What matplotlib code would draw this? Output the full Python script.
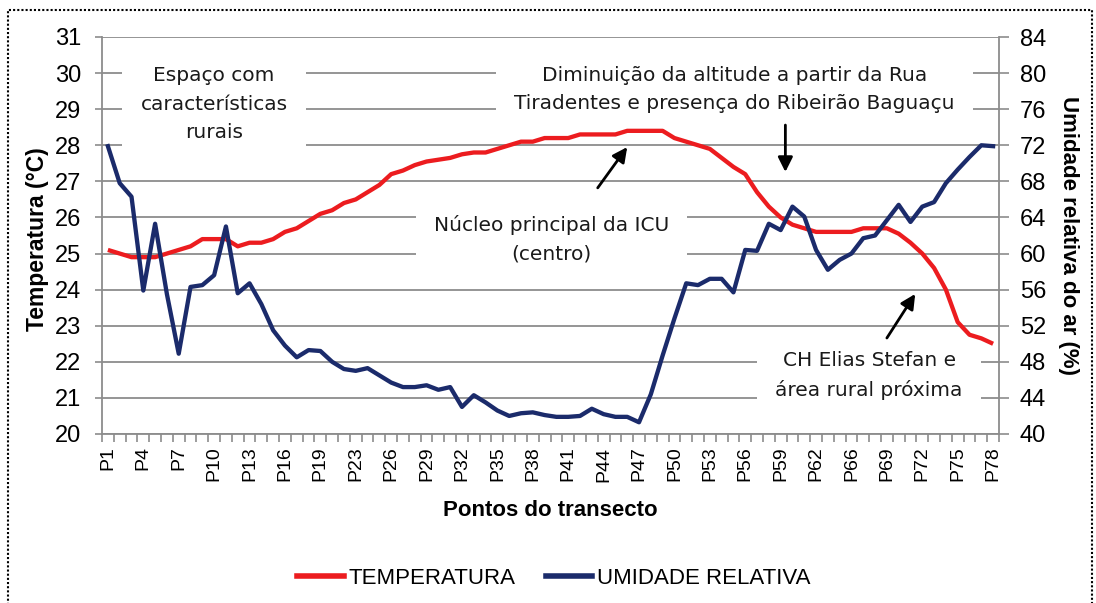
import matplotlib.pyplot as plt
from matplotlib.patches import Rectangle
from matplotlib.lines import Line2D

# Fonts: narrow Arial-like for axis text, Verdana-like for the notes
NARROW = ["Liberation Sans Narrow", "Liberation Sans"]
WIDE = ["Liberation Sans"]
NOTE = ["DejaVu Sans"]

# Data
pontos = [f"P{i}" for i in range(1, 79) if i not in (20, 64)]

temperatura = [25.1, 25.0, 24.9, 24.9, 24.9, 25.0, 25.1, 25.2, 25.4, 25.4,
               25.4, 25.2, 25.3, 25.3, 25.4, 25.6, 25.7, 25.9, 26.1, 26.2,
               26.4, 26.5, 26.7, 26.9, 27.2, 27.3, 27.45, 27.55, 27.6, 27.65,
               27.75, 27.8, 27.8, 27.9, 28.0, 28.1, 28.1, 28.2, 28.2, 28.2,
               28.3, 28.3, 28.3, 28.3, 28.4, 28.4, 28.4, 28.4, 28.2, 28.1,
               28.0, 27.9, 27.65, 27.4, 27.2, 26.7, 26.3, 26.0, 25.8, 25.7,
               25.6, 25.6, 25.6, 25.6, 25.7, 25.7, 25.7, 25.55, 25.3, 25.0,
               24.6, 24.0, 23.1, 22.75, 22.65, 22.5]

umidade = [71.9, 67.8, 66.3, 55.9, 63.3, 55.5, 48.9, 56.3, 56.5, 57.6,
           63.0, 55.6, 56.7, 54.4, 51.5, 49.8, 48.5, 49.3, 49.2, 48.0,
           47.2, 47.0, 47.3, 46.5, 45.7, 45.2, 45.2, 45.4, 44.9, 45.2,
           43.0, 44.3, 43.5, 42.6, 42.0, 42.3, 42.4, 42.1, 41.9, 41.9,
           42.0, 42.8, 42.2, 41.9, 41.9, 41.3, 44.4, 48.7, 52.8, 56.7,
           56.5, 57.2, 57.2, 55.7, 60.4, 60.3, 63.3, 62.6, 65.2, 64.1,
           60.4, 58.2, 59.3, 60.0, 61.7, 62.0, 63.7, 65.4, 63.5, 65.2,
           65.7, 67.8, 69.3, 70.7, 72.0, 71.9]

RED = "#ec1c1f"
BLUE = "#1b2b6b"
GRID = "#8c8c8c"

W, H = 1096, 603
fig = plt.figure(figsize=(W / 100, H / 100), dpi=100)
ax = fig.add_axes([102 / W, 1 - 434 / H, (999 - 102) / W, (434 - 37) / H])
ax2 = ax.twinx()

x = list(range(len(pontos)))
ax.plot(x, temperatura, color=RED, lw=3.1, solid_capstyle="butt", zorder=3)
ax2.plot(x, umidade, color=BLUE, lw=3.1, zorder=3)

# left axis
ax.set_xlim(-0.5, len(pontos) - 0.5)
ax.set_ylim(20, 31)
ax.set_yticks(range(20, 32))
ax.grid(axis="y", color=GRID, lw=1.3, zorder=0.5)
ax.set_axisbelow(True)
ax2.set_ylim(40, 84)
ax2.set_yticks(range(40, 85, 4))

for a in (ax, ax2):
    for s in a.spines.values():
        s.set_visible(False)
ax.spines["left"].set_visible(True)
ax.spines["bottom"].set_visible(True)
ax2.spines["right"].set_visible(True)
for s in (ax.spines["left"], ax.spines["bottom"], ax2.spines["right"]):
    s.set_color(GRID)
    s.set_linewidth(1.3)

ax.set_xticks(x[::3])
ax.set_xticklabels(pontos[::3], rotation=90, family=NARROW, fontsize=14)
ax.set_xticks([i + 0.5 for i in range(-1, len(pontos))], minor=True)
ax.tick_params(axis="x", which="major", length=0, pad=9)
ax.tick_params(axis="x", which="minor", length=6, color=GRID, width=1.2)
ax.tick_params(axis="y", length=5, color=GRID, width=1.2, pad=10)
ax2.tick_params(axis="y", length=7, color=GRID, width=1.2, pad=8)
for lab in ax.get_yticklabels() + ax2.get_yticklabels():
    lab.set_family(NARROW)
    lab.set_fontsize(17)

ax.set_xlabel("Pontos do transecto", family=NARROW, fontsize=16,
              fontweight="bold")
ax.xaxis.set_label_coords(0.5, -0.165)
ax.set_ylabel("Temperatura (°C)", family=WIDE, fontsize=16.5,
              fontweight="bold", va="center")
ax.yaxis.set_label_coords(-0.072, 0.49)
ax2.set_ylabel("Umidade relativa do ar (%)", family=WIDE, fontsize=16,
               fontweight="bold", rotation=270, va="center")
ax2.yaxis.set_label_coords(1.078, 0.5)

# notes with white boxes over the grid (under the temperature line)
box = dict(facecolor="white", edgecolor="none", boxstyle="square,pad=0.9")
notes = [
    (9.0, 29.14, "Espaço com\ncaracterísticas\nrurais"),
    (53.1, 29.55, "Diminuição da altitude a partir da Rua\n"
                  "Tiradentes e presença do Ribeirão Baguaçu"),
    (37.6, 25.40, "Núcleo principal da ICU\n(centro)"),
    (64.5, 21.61, "CH Elias Stefan e\nárea rural próxima"),
]
for nx, ny, txt in notes:
    ax.text(nx, ny, txt, ha="center", va="center",
            family=NOTE, fontsize=14.5, linespacing=1.62, color="#1a1a1a",
            bbox=box, zorder=2)

arrows = [
    ((41.5, 26.82), (44.0, 27.95)),
    ((57.4, 28.56), (57.4, 27.26)),
    ((66.0, 22.66), (68.4, 23.88)),
]
for (x0, y0), (x1, y1) in arrows:
    ax2.annotate("", xy=(x1, y1), xytext=(x0, y0),
                 xycoords=ax.transData, textcoords=ax.transData,
                 arrowprops=dict(arrowstyle="-|>", color="black", lw=2,
                                 mutation_scale=22, shrinkA=0, shrinkB=0),
                 zorder=5)

# legend
handles = [Line2D([], [], color=RED, lw=4), Line2D([], [], color=BLUE, lw=4)]
fig.legend(handles, ["TEMPERATURA", "UMIDADE RELATIVA"], loc="center",
           bbox_to_anchor=(554 / W, 1 - 578 / H), ncol=2, frameon=False,
           handlelength=2.1, handletextpad=0.22, columnspacing=1.35,
           prop=dict(family=NARROW, size=16))

# dotted frame
fig.add_artist(Rectangle((8 / W, -0.05), 1084 / W, 1 - 10 / H + 0.05,
                         transform=fig.transFigure, fill=False,
                         edgecolor="black", lw=1.5, ls=(0, (1, 1))))

fig.savefig("out.png", dpi=100)
